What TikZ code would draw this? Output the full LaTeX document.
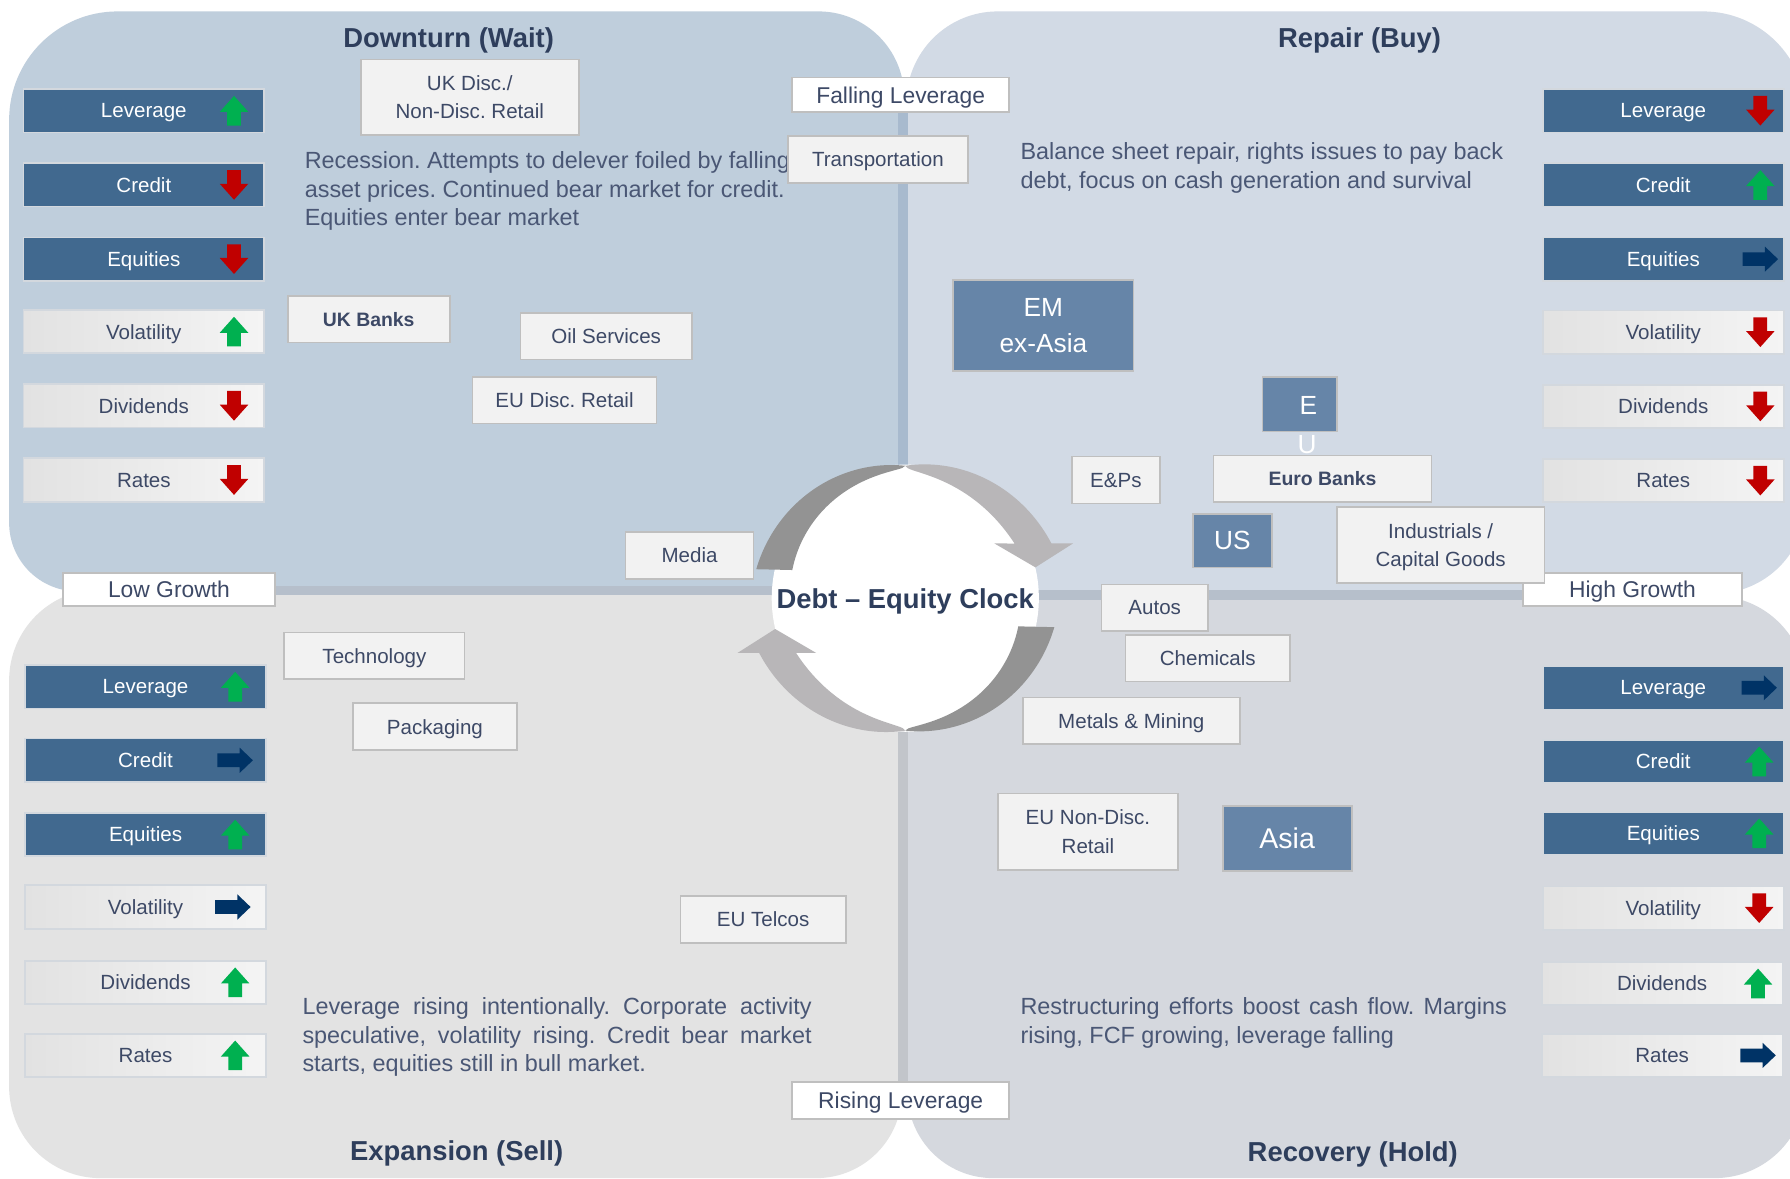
\documentclass[tikz,border=0pt]{standalone}
\usepackage{fontspec}
\setmainfont{Liberation Sans}
\usetikzlibrary{calc}
\frenchspacing
\definecolor{qTL}{HTML}{BFCEDC}
\definecolor{qTR}{HTML}{D2DAE5}
\definecolor{qBL}{HTML}{E3E3E3}
\definecolor{qBR}{HTML}{D5D8DE}
\definecolor{sepH}{HTML}{B6BFCB}
\definecolor{sepVt}{HTML}{A8BACE}
\definecolor{sepVb}{HTML}{C2C5CA}
\definecolor{indDark}{HTML}{41698F}
\definecolor{indEdge}{HTML}{D3D8DE}
\definecolor{boxFill}{HTML}{F2F2F2}
\definecolor{boxEdge}{HTML}{BFBFBF}
\definecolor{regFill}{HTML}{6685A8}
\definecolor{txt}{HTML}{3D4966}
\definecolor{ttl}{HTML}{2E3E5C}
\definecolor{desc}{HTML}{4A5775}
\definecolor{upG}{HTML}{00B050}
\definecolor{dnR}{HTML}{C00000}
\definecolor{rtN}{HTML}{003366}
\definecolor{arcD}{HTML}{939393}
\definecolor{arcL}{HTML}{B8B6B8}
\definecolor{lgL}{HTML}{E2E2E2}
\definecolor{lgR}{HTML}{F4F4F4}
\tikzset{
  every node/.style={inner sep=0pt, outer sep=0pt},
  indbase/.style={rectangle, draw=indEdge, line width=1.5pt, minimum width=211pt, minimum height=38pt, text depth=0pt, font=\fontsize{18}{20}\selectfont},
  inddark/.style={indbase, fill=indDark, text=white},
  indlight/.style={indbase, left color=lgL, right color=lgR, text=txt},
  sectbox/.style={rectangle, draw=boxEdge, line width=1.5pt, fill=boxFill, text=txt, text depth=0pt, font=\fontsize{18}{25}\selectfont, align=center},
  boldbox/.style={sectbox, font=\fontsize{17}{25}\selectfont\bfseries},
  lblbox/.style={sectbox, fill=white, font=\fontsize{20}{24}\selectfont},
  regbox/.style={rectangle, draw=boxEdge, line width=1.5pt, fill=regFill, text=white, text depth=0pt, font=\fontsize{23}{31}\selectfont, align=center},
  ttlstyle/.style={text=ttl, text depth=0pt, font=\fontsize{24}{28}\selectfont\bfseries},
  descstyle/.style={text=desc, font=\fontsize{20.5}{25}\selectfont, align=left, anchor=north west},
  arrup/.pic={\fill[upG] (0,-13) -- (12.5,1) -- (6,1) -- (6,13) -- (-6,13) -- (-6,1) -- (-12.5,1) -- cycle;},
  arrdn/.pic={\fill[dnR] (0,13) -- (12.5,-1) -- (6,-1) -- (6,-13) -- (-6,-13) -- (-6,-1) -- (-12.5,-1) -- cycle;},
  arrrt/.pic={\fill[rtN] (15.5,0) -- (4,-11) -- (4,-6) -- (-15.5,-6) -- (-15.5,6) -- (4,6) -- (4,11) -- cycle;}
}
\newcommand{\indic}[7]{%
  \node[#4] (#1) at (#2,#3) {#5};
  \pic at (#7,#3) {#6};}
\begin{document}
\begin{tikzpicture}[x=1pt,y=-1pt]
\useasboundingbox (0,0) rectangle (1568,1032);
\clip (0,0) rectangle (1568,1032);
\fill[white] (0,0) rectangle (1568,1032);
% quadrants
\fill[qTL] (400,518) [rounded corners=60pt] -- (8,518) [rounded corners=95pt] -- (8,10) [rounded corners=75pt] -- (792,10) [sharp corners] -- (792,518) -- cycle;
\fill[qTR] (1200,10) [rounded corners=80pt] -- (794,10) [sharp corners] -- (794,520) [rounded corners=80pt] -- (1582,520) [rounded corners=90pt] -- (1582,10) [sharp corners] -- cycle;
\fill[qBL] (400,516) [rounded corners=80pt] -- (8,516) [rounded corners=80pt] -- (8,1032) [rounded corners=75pt] -- (790,1032) [sharp corners] -- (790,516) -- cycle;
\fill[qBR] (1200,522) [sharp corners] -- (795,522) [rounded corners=75pt] -- (795,1032) [rounded corners=80pt] -- (1582,1032) [rounded corners=80pt] -- (1582,522) [sharp corners] -- cycle;
% separators
\fill[sepVt] (787,80) rectangle (795,520);
\fill[sepVb] (787,520) rectangle (795,960);
\fill[sepH] (60,513) rectangle (792,521);
\fill[sepH] (792,517) rectangle (1520,526);
% titles
\node[ttlstyle] (tDown) at (393,33) {Downturn (Wait)};
\node[ttlstyle] (tRep) at (1191,33) {Repair (Buy)};
\node[ttlstyle] (tExp) at (400,1008) {Expansion (Sell)};
\node[ttlstyle] (tRec) at (1185,1009) {Recovery (Hold)};
% descriptions
\node[descstyle] (dDesc) at (267,133) {Recession. Attempts to delever foiled by falling\\asset prices. Continued bear market for credit.\\Equities enter bear market};
\node[descstyle] (rDesc) at (894,125) {Balance sheet repair, rights issues to pay back\\debt, focus on cash generation and survival};
\node[descstyle] (eDesc) at (265,874) {\makebox[446pt][s]{Leverage rising intentionally. Corporate activity}\\\makebox[446pt][s]{speculative, volatility rising. Credit bear market}\\starts, equities still in bull market.};
\node[descstyle] (hDesc) at (894,874) {\makebox[426pt][s]{Restructuring efforts boost cash flow. Margins}\\rising, FCF growing, leverage falling};
% indicators
\indic{dLev}{126}{97}{inddark}{Leverage}{arrup}{205}
\indic{dCre}{126}{162}{inddark}{Credit}{arrdn}{205}
\indic{dEqu}{126}{227}{inddark}{Equities}{arrdn}{205}
\indic{dVol}{126}{290.5}{indlight}{Volatility}{arrup}{205}
\indic{dDiv}{126}{355.5}{indlight}{Dividends}{arrdn}{205}
\indic{dRat}{126}{420.5}{indlight}{Rates}{arrdn}{205}
\indic{rLev}{1457}{97}{inddark}{Leverage}{arrdn}{1542}
\indic{rCre}{1457}{162}{inddark}{Credit}{arrup}{1542}
\indic{rEqu}{1457}{227}{inddark}{Equities}{arrrt}{1542}
\indic{rVol}{1457}{291}{indlight}{Volatility}{arrdn}{1542}
\indic{rDiv}{1457}{356}{indlight}{Dividends}{arrdn}{1542}
\indic{rRat}{1457}{421}{indlight}{Rates}{arrdn}{1542}
\indic{eLev}{127.5}{601.5}{inddark}{Leverage}{arrup}{206}
\indic{eCre}{127.5}{666}{inddark}{Credit}{arrrt}{206}
\indic{eEqu}{127.5}{731}{inddark}{Equities}{arrup}{206}
\indic{eVol}{127.5}{794.5}{indlight}{Volatility}{arrrt}{204}
\indic{eDiv}{127.5}{860.5}{indlight}{Dividends}{arrup}{206}
\indic{eRat}{127.5}{924.5}{indlight}{Rates}{arrup}{206}
\indic{hLev}{1457}{602.5}{inddark}{Leverage}{arrrt}{1541}
\indic{hCre}{1457}{667}{inddark}{Credit}{arrup}{1541}
\indic{hEqu}{1457}{730}{inddark}{Equities}{arrup}{1541}
\indic{hVol}{1457}{795.5}{indlight}{Volatility}{arrdn}{1541}
\indic{hDiv}{1456}{861.5}{indlight}{Dividends}{arrup}{1540}
\indic{hRat}{1456}{924.5}{indlight}{Rates}{arrrt}{1540}
% clock
\begin{scope}[shift={(793,524)}]
  \fill[white] (0,0) circle[radius=117pt];
  \foreach \rot in {0,180} {
    \begin{scope}[rotate=\rot]
      \fill[arcD] plot[domain=90:169,samples=60] ({(116+17*(\x-90)/79)*cos(\x)},{-(116+17*(\x-90)/79)*sin(\x)})
        -- plot[domain=166:90,samples=60] ({(116-14*sqrt((\x-90)/76))*cos(\x)},{-(116-14*sqrt((\x-90)/76))*sin(\x)}) -- cycle;
      \fill[arcL] plot[domain=90:20.56,samples=60] ({(116+20.7*(90-\x)/69.44)*cos(\x)},{-(116+20.7*(90-\x)/69.44)*sin(\x)})
        -- (147,-48) -- (114,-27) -- (78,-48)
        -- plot[domain=26.57:90,samples=60] ({(116-16*sqrt((90-\x)/63.43)+7*((90-\x)/63.43)^3)*cos(\x)},{-(116-16*sqrt((90-\x)/63.43)+7*((90-\x)/63.43)^3)*sin(\x)}) -- cycle;
    \end{scope}
  }
\end{scope}
\node[text=ttl, text depth=0pt, font=\fontsize{24}{28}\selectfont\bfseries] (clock) at (793,524) {Debt – Equity Clock};
% sector boxes
\node[sectbox, minimum width=191pt, minimum height=66pt] (ukdisc) at (411.5,85) {UK Disc./\\Non-Disc. Retail};
\node[lblbox, minimum width=190pt, minimum height=30pt] (falling) at (789,83) {Falling Leverage};
\node[sectbox, minimum width=158pt, minimum height=41pt] (transp) at (769,139.5) {Transportation};
\node[boldbox, minimum width=142pt, minimum height=41pt] (ukbanks) at (323,279.5) {UK Banks};
\node[sectbox, minimum width=150pt, minimum height=41pt] (oil) at (531,294.5) {Oil Services};
\node[sectbox, minimum width=161pt, minimum height=41pt] (eudisc) at (494.5,350.5) {EU Disc. Retail};
\node[sectbox, minimum width=112pt, minimum height=41pt] (media) at (604,486.5) {Media};
\node[lblbox, minimum width=186pt, minimum height=29pt] (lowg) at (148,516.5) {Low Growth};
\node[lblbox, minimum width=192pt, minimum height=29pt] (highg) at (1430,516.5) {High Growth};
\node[sectbox, minimum width=158pt, minimum height=41pt] (tech) at (328,574.5) {Technology};
\node[sectbox, minimum width=144pt, minimum height=41pt] (pack) at (381,636.5) {Packaging};
\node[sectbox, minimum width=145pt, minimum height=41pt] (eutel) at (668.5,805.5) {EU Telcos};
\node[lblbox, minimum width=190pt, minimum height=32pt] (rising) at (789,964) {Rising Leverage};
\node[sectbox, minimum width=77pt, minimum height=41pt] (eps) at (977.5,420.5) {E\&Ps};
% regions
\node[regbox, minimum width=158pt, minimum height=80pt] (emx) at (914,285) {EM\\ex-Asia};
\node[regbox, minimum width=65pt, minimum height=48pt] (euBox) at (1138.5,354) {};
\node[text=white, text depth=0pt, font=\fontsize{23}{28}\selectfont] (euE) at (1146,355) {E};
\node[text=white, text depth=0pt, font=\fontsize{23}{28}\selectfont] (euU) at (1145,389) {U};
\node[boldbox, minimum width=191pt, minimum height=41pt] (eurob) at (1158.5,419.5) {Euro Banks};
\node[regbox, minimum width=69pt, minimum height=47pt] (us) at (1079.5,473.5) {US};
\node[sectbox, minimum width=182pt, minimum height=67pt] (indus) at (1262,477.5) {Industrials /\\Capital Goods};
\node[sectbox, minimum width=93pt, minimum height=41pt] (autos) at (1011.5,532.5) {Autos};
\node[sectbox, minimum width=144pt, minimum height=41pt] (chem) at (1058,576.5) {Chemicals};
\node[sectbox, minimum width=190pt, minimum height=41pt] (metals) at (991,631.5) {Metals \& Mining};
\node[sectbox, minimum width=158pt, minimum height=67pt] (eunon) at (953,728.5) {EU Non-Disc.\\Retail};
\node[regbox, minimum width=113pt, minimum height=57pt, font=\fontsize{25}{30}\selectfont] (asia) at (1127.5,734.5) {Asia};
\end{tikzpicture}
\end{document}
